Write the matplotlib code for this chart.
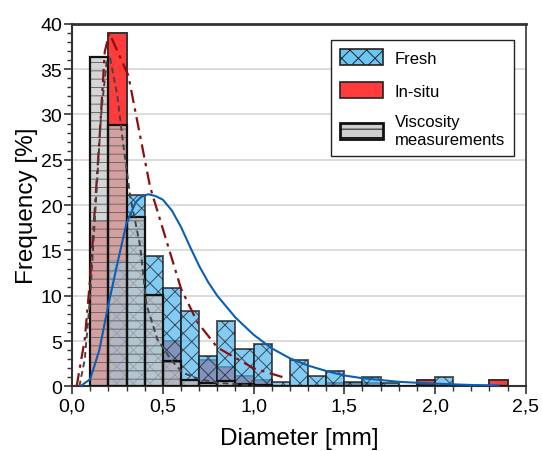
import matplotlib
matplotlib.use('Agg')
import matplotlib.pyplot as plt
from matplotlib.patches import Patch
from matplotlib.ticker import MultipleLocator, FuncFormatter

plt.rcParams['font.family'] = ['Liberation Sans', 'DejaVu Sans']
plt.rcParams['hatch.linewidth'] = 0.7

# ---------------------------------------------------------
# Data (bins of 0.1 mm, left edges)
# ---------------------------------------------------------
bin_left = [0.1, 0.2, 0.3, 0.4, 0.5, 0.6, 0.7, 0.8, 0.9, 1.0, 1.1, 1.2,
            1.3, 1.4, 1.5, 1.6, 1.7, 1.8, 1.9, 2.0, 2.1, 2.2, 2.3]
fresh = [0.0, 13.8, 21.1, 14.4, 10.8, 8.3, 3.4, 7.2, 4.1, 4.7, 0.5, 2.9,
         1.1, 1.7, 0.5, 1.0, 0.4, 0.0, 0.3, 1.0, 0.0, 0.0, 0.0]
insitu = [18.3, 39.0, 0.0, 0.0, 5.0, 0.7, 2.9, 2.1, 1.1, 0.7, 0.0, 0.0,
          0.0, 0.4, 0.4, 0.4, 0.0, 0.0, 0.7, 0.0, 0.0, 0.0, 0.7]
viscosity = [36.3, 28.8, 18.7, 10.1, 2.8, 0.7, 0.4, 0.6, 0.3, 0.2, 0.0, 0.0,
             0.0, 0.0, 0.0, 0.0, 0.0, 0.0, 0.0, 0.0, 0.0, 0.0, 0.0]

# fitted curves
fresh_fit_x = [0.045, 0.1, 0.15, 0.2, 0.25, 0.3, 0.35, 0.38, 0.42, 0.46, 0.5,
               0.55, 0.6, 0.65, 0.7, 0.75, 0.8, 0.9, 1.0, 1.1, 1.2, 1.3, 1.4,
               1.5, 1.6, 1.8, 2.0, 2.2, 2.35]
fresh_fit_y = [0.0, 0.8, 4.0, 9.0, 13.6, 18.0, 20.3, 20.9, 21.2, 21.0, 20.6,
               19.4, 17.6, 15.4, 13.3, 11.5, 10.0, 7.6, 5.7, 4.2, 3.1, 2.3,
               1.7, 1.2, 0.9, 0.5, 0.3, 0.15, 0.1]
insitu_fit_x = [0.025, 0.07, 0.1, 0.15, 0.18, 0.205, 0.31, 0.43, 0.6, 0.69, 0.8,
                1.0, 1.18]
insitu_fit_y = [0.0, 5.2, 12.0, 27.0, 36.9, 39.0, 34.3, 22.0, 10.8, 7.1, 4.3,
                2.0, 0.9]
visc_fit_x = [0.04, 0.07, 0.1, 0.13, 0.16, 0.19, 0.21, 0.25, 0.28, 0.32, 0.375,
              0.41, 0.47, 0.55, 0.61, 0.7, 0.8, 1.0]
visc_fit_y = [0.0, 3.0, 10.0, 20.0, 30.0, 35.8, 36.2, 32.0, 27.0, 21.0, 15.5,
              9.0, 5.2, 2.8, 1.5, 0.8, 0.4, 0.1]

# ---------------------------------------------------------
# Plot
# ---------------------------------------------------------
fig = plt.figure(figsize=(5.42, 4.52), dpi=100)
ax = fig.add_axes([0.133, 0.143, 0.837, 0.802])

ax.grid(True, axis='y', color='#d6d6d6', linewidth=1.2, zorder=0)

# In-situ (bottom layer)
ax.bar(bin_left, insitu, width=0.1, align='edge', color='#ff3b3b',
       edgecolor='#333333', linewidth=1.4, zorder=2)
# Fresh (semi transparent, cross hatch)
ax.bar(bin_left, fresh, width=0.1, align='edge', color='#52b8f0', alpha=0.72,
       edgecolor='#1a1a1a', linewidth=1.4, hatch='xx', zorder=3)
# Viscosity measurements: fill, light dash hatch, dark outline
ax.bar(bin_left, viscosity, width=0.1, align='edge', color='#c6c6c6', alpha=0.72,
       linewidth=0, zorder=4)
ax.bar(bin_left, viscosity, width=0.1, align='edge', facecolor='none',
       edgecolor='#6a6a6a', linewidth=0, hatch='--', zorder=4.1)
ax.bar(bin_left, viscosity, width=0.1, align='edge', fill=False,
       edgecolor='#111111', linewidth=1.6, zorder=4.2)

ax.plot(fresh_fit_x, fresh_fit_y, color='#0a5fb4', linewidth=1.5, zorder=6)
ax.plot(insitu_fit_x, insitu_fit_y, color='#8b0f0f', linewidth=1.6,
        linestyle=(0, (6, 2.5, 1.5, 2.5)), zorder=6)
ax.plot(visc_fit_x, visc_fit_y, color='#444444', linewidth=1.4,
        linestyle=(0, (3, 2)), zorder=6)

# legend proxies
handles = [
    Patch(facecolor='#6cc6f5', edgecolor='#222222', hatch='xx', linewidth=1.2),
    Patch(facecolor='#ff3b3b', edgecolor='#222222', linewidth=1.2),
    Patch(facecolor='#cfcfcf', edgecolor='#111111', hatch='--', linewidth=2.0),
]
labels = ['Fresh', 'In-situ', 'Viscosity\nmeasurements']
leg = ax.legend(handles, labels, loc='upper right', bbox_to_anchor=(0.993, 0.978),
                fontsize=12, frameon=True, fancybox=False, edgecolor='#222222',
                framealpha=1, handlelength=2.6, handleheight=1.1,
                handletextpad=0.7, labelspacing=0.95, borderpad=0.55)
leg.get_frame().set_linewidth(1.0)
leg.set_zorder(10)

ax.set_xlim(0, 2.5)
ax.set_ylim(0, 40)
ax.xaxis.set_major_locator(MultipleLocator(0.5))
ax.xaxis.set_minor_locator(MultipleLocator(0.1))
ax.yaxis.set_major_locator(MultipleLocator(5))
ax.yaxis.set_minor_locator(MultipleLocator(1))
ax.xaxis.set_major_formatter(FuncFormatter(lambda v, p: f'{v:.1f}'.replace('.', ',')))
ax.yaxis.set_major_formatter(FuncFormatter(lambda v, p: f'{v:.0f}'))

ax.tick_params(axis='both', which='major', labelsize=14, length=6, width=1.2,
               direction='out', color='#333333')
ax.tick_params(axis='both', which='minor', length=3.5, width=1.0,
               direction='out', color='#333333')
ax.tick_params(axis='x', pad=2)
ax.tick_params(axis='y', pad=1)

for side in ['top', 'right', 'bottom', 'left']:
    ax.spines[side].set_color('#333333')
ax.spines['top'].set_linewidth(2.0)
ax.spines['right'].set_linewidth(1.2)
ax.spines['bottom'].set_linewidth(1.5)
ax.spines['left'].set_linewidth(1.5)

ax.set_xlabel('Diameter [mm]', fontsize=17.5, labelpad=9)
ax.set_ylabel('Frequency [%]', fontsize=17.5, labelpad=2)

fig.savefig('out.png', dpi=100)
